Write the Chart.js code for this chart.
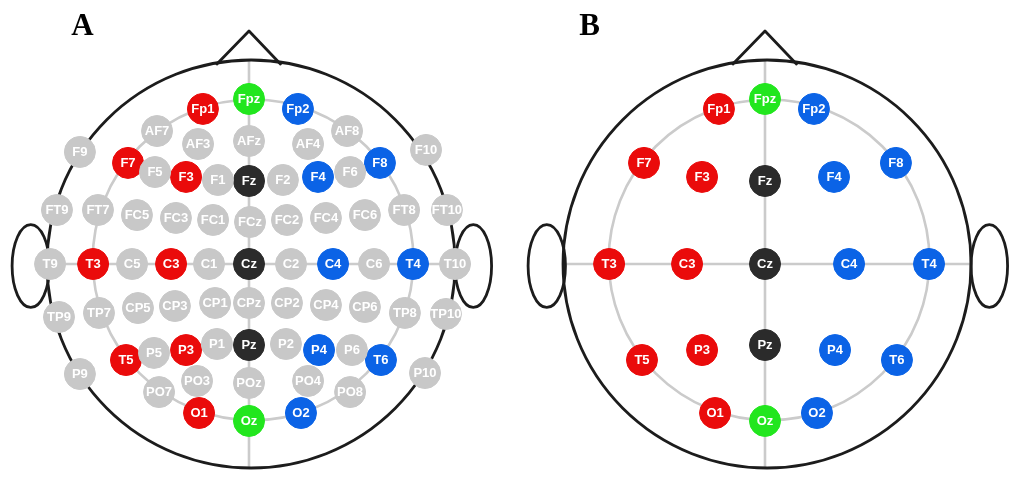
<!DOCTYPE html>
<html>
<head>
<meta charset="utf-8">
<title>EEG electrode montage</title>
<script src="https://cdn.jsdelivr.net/npm/chart.js@4.4.1/dist/chart.umd.min.js"></script>
<style>
  html, body { margin: 0; padding: 0; background: #ffffff; }
  #wrap { position: relative; width: 1014px; height: 491px; overflow: hidden; }
  #wrap canvas { position: absolute; top: 0; }
</style>
</head>
<body>
<div id="wrap">
  <canvas id="headA" width="507" height="491" style="left:0px"></canvas>
  <canvas id="headB" width="507" height="491" style="left:507px"></canvas>
</div>
<script>
// Electrode sites in head units (Cz = origin, nasion up, head radius = 1).
const electrodeNames = [
  'Fpz','Fp1','Fp2','AF7','AF3','AFz','AF4','AF8','F9','F10',
  'F7','F5','F3','F1','Fz','F2','F4','F6','F8',
  'FT9','FT7','FC5','FC3','FC1','FCz','FC2','FC4','FC6','FT8','FT10',
  'T9','T3','C5','C3','C1','Cz','C2','C4','C6','T4','T10',
  'TP9','TP7','CP5','CP3','CP1','CPz','CP2','CP4','CP6','TP8','TP10',
  'T5','P5','P3','P1','Pz','P2','P4','P6','T6','P9','P10',
  'PO7','PO3','POz','PO4','PO8','O1','Oz','O2'
];
const electrodeX = [
  0.000,-0.227, 0.241,-0.453,-0.251, 0.000, 0.291, 0.483,-0.833, 0.872,
  -0.596,-0.463,-0.310,-0.153, 0.000, 0.167, 0.340, 0.498, 0.645,
  -0.946,-0.744,-0.552,-0.360,-0.177, 0.005, 0.187, 0.379, 0.571, 0.764, 0.975,
  -0.980,-0.768,-0.576,-0.384,-0.197, 0.000, 0.207, 0.414, 0.616, 0.808, 1.015,
  -0.936,-0.739,-0.547,-0.365,-0.167, 0.000, 0.187, 0.379, 0.571, 0.768, 0.970,
  -0.606,-0.468,-0.310,-0.158, 0.000, 0.182, 0.345, 0.507, 0.650,-0.833, 0.867,
  -0.443,-0.256, 0.000, 0.291, 0.498,-0.246, 0.000, 0.256
];
const electrodeY = [
  0.813, 0.764, 0.764, 0.655, 0.591, 0.606, 0.591, 0.655, 0.552, 0.562,
  0.498, 0.453, 0.429, 0.414, 0.409, 0.414, 0.429, 0.453, 0.498,
  0.266, 0.266, 0.241, 0.227, 0.217, 0.207, 0.217, 0.227, 0.241, 0.266, 0.266,
  0.000, 0.000, 0.000, 0.000, 0.000, 0.000, 0.000, 0.000, 0.000, 0.000, 0.000,
  -0.261,-0.241,-0.217,-0.207,-0.192,-0.192,-0.192,-0.202,-0.212,-0.241,-0.246,
  -0.473,-0.438,-0.424,-0.394,-0.399,-0.394,-0.424,-0.424,-0.473,-0.542,-0.537,
  -0.631,-0.576,-0.586,-0.576,-0.631,-0.734,-0.773,-0.734
];

// Channel groups (everything not listed is drawn grey).
const leftChannels    = ['Fp1','F7','F3','T3','C3','T5','P3','O1'];
const rightChannels   = ['Fp2','F8','F4','T4','C4','T6','P4','O2'];
const polarChannels   = ['Fpz','Oz'];
const midlineChannels = ['Fz','Cz','Pz'];

// Panel B shows only the classic 10-20 subset.
const panelBChannels = [
  'Fpz','Fp1','Fp2','F7','F3','Fz','F4','F8',
  'T3','C3','Cz','C4','T4','T5','P3','Pz','P4','T6','O1','Oz','O2'
];

const groupStyles = [
  { key: 'other',   color: '#c8c8c8', names: null },
  { key: 'left',    color: '#ea0b0b', names: leftChannels },
  { key: 'right',   color: '#0b63e6', names: rightChannels },
  { key: 'polar',   color: '#22e61e', names: polarChannels },
  { key: 'midline', color: '#2b2b2b', names: midlineChannels }
];

function groupOf(name) {
  for (const g of groupStyles) {
    if (g.names && g.names.includes(name)) return g.key;
  }
  return 'other';
}

function buildDatasets(allowed) {
  return groupStyles.map(g => {
    const pts = [];
    electrodeNames.forEach((n, i) => {
      if (allowed && !allowed.includes(n)) return;
      if (groupOf(n) !== g.key) return;
      pts.push({ x: electrodeX[i], y: electrodeY[i], name: n });
    });
    return {
      label: g.key,
      data: pts,
      backgroundColor: g.color,
      borderColor: g.color,
      borderWidth: 1,
      pointRadius: 15.5,
      pointHoverRadius: 15.5,
      pointStyle: 'circle'
    };
  });
}

// Head outline, nose, ears and the grey reference lines.
const headOutline = {
  id: 'headOutline',
  beforeDatasetsDraw(chart) {
    const { ctx, scales: { x, y } } = chart;
    const px = v => x.getPixelForValue(v);
    const py = v => y.getPixelForValue(v);
    const unit = px(1) - px(0);
    ctx.save();
    ctx.lineCap = 'round';
    ctx.lineJoin = 'round';

    ctx.strokeStyle = '#cbcbcb';
    ctx.lineWidth = 2.6;
    ctx.beginPath();
    ctx.arc(px(0.02), py(0.02), 0.79 * unit, 0, Math.PI * 2);
    ctx.stroke();
    ctx.beginPath();
    ctx.moveTo(px(0), py(1.0));
    ctx.lineTo(px(0), py(-1.0));
    ctx.moveTo(px(-0.99), py(0));
    ctx.lineTo(px(1.01), py(0));
    ctx.stroke();

    ctx.strokeStyle = '#1c1c1c';
    ctx.lineWidth = 2.8;
    ctx.beginPath();
    ctx.arc(px(0.01), py(0), 1.005 * unit, 0, Math.PI * 2);
    ctx.stroke();
    ctx.beginPath();
    ctx.moveTo(px(-0.158), py(0.985));
    ctx.lineTo(px(0), py(1.148));
    ctx.lineTo(px(0.155), py(0.985));
    ctx.stroke();
    ctx.beginPath();
    ctx.ellipse(px(-1.075), py(-0.01), 0.092 * unit, 0.204 * unit, 0, 0, Math.PI * 2);
    ctx.stroke();
    ctx.beginPath();
    ctx.ellipse(px(1.105), py(-0.01), 0.09 * unit, 0.204 * unit, 0, 0, Math.PI * 2);
    ctx.stroke();
    ctx.restore();
  },
  afterDatasetsDraw(chart) {
    const { ctx } = chart;
    ctx.save();
    ctx.fillStyle = '#ffffff';
    ctx.font = 'bold 13px "Liberation Sans", Arial, sans-serif';
    ctx.textAlign = 'center';
    ctx.textBaseline = 'middle';
    chart.data.datasets.forEach((ds, di) => {
      const meta = chart.getDatasetMeta(di);
      meta.data.forEach((el, i) => {
        ctx.fillText(ds.data[i].name, el.x, el.y + 0.5);
      });
    });
    ctx.restore();
  },
  afterDraw(chart, args, opts) {
    const { ctx } = chart;
    ctx.save();
    ctx.fillStyle = '#000000';
    ctx.font = 'bold 31px "Liberation Serif", "Times New Roman", serif';
    ctx.textAlign = 'center';
    ctx.textBaseline = 'alphabetic';
    ctx.fillText(opts.letter, 82.5, 35);
    ctx.restore();
  }
};

// Scale ranges so one head unit is 203 px and the midline sits at the given px.
function makePanel(canvasId, midlinePx, allowed, letter) {
  const unitPx = 203, w = 507, h = 491, cyPx = 264;
  new Chart(document.getElementById(canvasId), {
    type: 'scatter',
    data: { datasets: buildDatasets(allowed) },
    options: {
      responsive: false,
      animation: false,
      devicePixelRatio: 1,
      layout: { padding: 0, autoPadding: false },
      events: [],
      scales: {
        x: { type: 'linear', display: false, min: -midlinePx / unitPx, max: (w - midlinePx) / unitPx },
        y: { type: 'linear', display: false, min: -(h - cyPx) / unitPx, max: cyPx / unitPx }
      },
      plugins: {
        legend: { display: false },
        tooltip: { enabled: false },
        headOutline: { letter: letter }
      }
    },
    plugins: [headOutline]
  });
}

makePanel('headA', 249, null, 'A');
makePanel('headB', 258, panelBChannels, 'B');
</script>
</body>
</html>
